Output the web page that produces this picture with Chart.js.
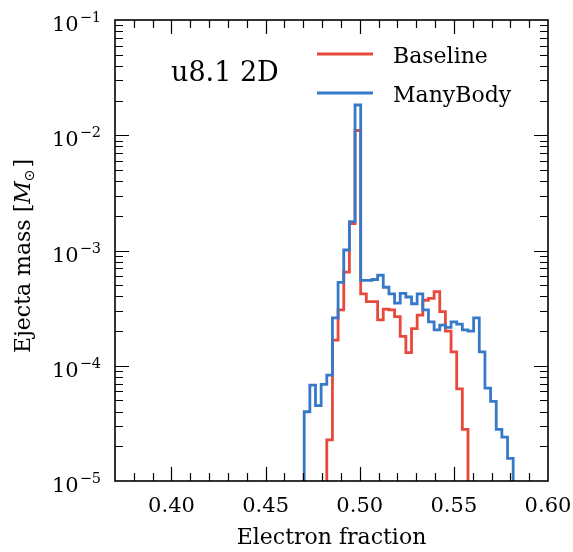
<!DOCTYPE html>
<html>
<head>
<meta charset="utf-8">
<script src="https://cdn.jsdelivr.net/npm/chart.js@4.4.1/dist/chart.umd.min.js"></script>
<style>
  html, body { margin: 0; padding: 0; background: #fff; }
  #wrap { width: 573px; height: 552px; }
</style>
</head>
<body>
<div id="wrap"><canvas id="yeChart" width="573" height="552"></canvas></div>
<script>
// bin edges in electron fraction (bin width 0.003)
const binEdges = [
  0.4705, 0.4735, 0.4765, 0.4795, 0.4825, 0.4855, 0.4885, 0.4915, 0.4945, 0.4975,
  0.5005, 0.5035, 0.5065, 0.5095, 0.5125, 0.5155, 0.5185, 0.5215, 0.5245, 0.5275,
  0.5305, 0.5335, 0.5365, 0.5395, 0.5425, 0.5455, 0.5485, 0.5515, 0.5545, 0.5575,
  0.5605, 0.5635, 0.5665, 0.5695, 0.5725, 0.5755, 0.5785, 0.5815
];

// ejecta mass per bin [Msun], null = empty bin
const baselineMass = [
  null, null, null, null, 2.27e-5, 1.67e-4, 3.05e-4, 6.5e-4, 1.71e-3, 1.1e-2,
  4.2e-4, 3.6e-4, 3.6e-4, 2.5e-4, 3.1e-4, 3.05e-4, 2.67e-4, 1.8e-4, 1.3e-4, 2.1e-4,
  2.75e-4, 3.7e-4, 3.85e-4, 4.4e-4, 2.95e-4, 2.0e-4, 1.32e-4, 6.3e-5, 2.8e-5,
  null, null, null, null, null, null, null, null
];
const manyBodyMass = [
  3.99e-5, 6.8e-5, 4.5e-5, 6.9e-5, 8.3e-5, 2.6e-4, 5.3e-4, 1.01e-3, 1.78e-3, 1.83e-2,
  5.5e-4, 5.5e-4, 5.6e-4, 6.1e-4, 4.8e-4, 4.2e-4, 3.5e-4, 4.25e-4, 3.95e-4, 3.45e-4,
  4.2e-4, 3.05e-4, 2.4e-4, 2.05e-4, 2.25e-4, 2.15e-4, 2.4e-4, 2.3e-4, 2.05e-4, 2.0e-4,
  2.6e-4, 1.32e-4, 6.4e-5, 4.9e-5, 2.8e-5, 2.4e-5, 1.57e-5
];

const xMajorTicks = [0.40, 0.45, 0.50, 0.55, 0.60];
const xTickLabels = ["0.40", "0.45", "0.50", "0.55", "0.60"];
const yMajorTicks = [1e-5, 1e-4, 1e-3, 1e-2, 1e-1];
const yTickExps = ["\u22125", "\u22124", "\u22123", "\u22122", "\u22121"];

const RED = "rgb(232,73,58)";
const BLUE = "rgb(55,121,201)";
const FLOOR = 1e-8; // below the axis, gets clipped
const SERIF = "'DejaVu Serif', serif";

// histogram outline as (x,y) corner points
function stepPoints(edges, vals) {
  const pts = [];
  let open = false;
  for (let i = 0; i < vals.length; i++) {
    const v = vals[i];
    if (v == null) {
      if (open) { pts.push({ x: edges[i], y: FLOOR }); open = false; }
      continue;
    }
    if (!open) { pts.push({ x: edges[i], y: FLOOR }); open = true; }
    pts.push({ x: edges[i], y: v });
    pts.push({ x: edges[i + 1], y: v });
  }
  if (open) pts.push({ x: edges[vals.length], y: FLOOR });
  return pts;
}

// frame, inward ticks, labels, legend and text
const decorPlugin = {
  id: "decor",
  afterDraw(chart) {
    const c = chart.ctx;
    const a = chart.chartArea;
    const xs = chart.scales.x, ys = chart.scales.y;
    c.save();
    c.strokeStyle = "#000";
    c.fillStyle = "#000";

    // ticks
    c.lineWidth = 1.2;
    const majLen = 14, minLen = 8;
    function xTick(v, len) {
      const px = Math.round(xs.getPixelForValue(v)) + 0.5;
      c.beginPath();
      c.moveTo(px, a.bottom); c.lineTo(px, a.bottom - len);
      c.moveTo(px, a.top); c.lineTo(px, a.top + len);
      c.stroke();
    }
    function yTick(v, len) {
      const py = Math.round(ys.getPixelForValue(v)) + 0.5;
      c.beginPath();
      c.moveTo(a.left, py); c.lineTo(a.left + len, py);
      c.moveTo(a.right, py); c.lineTo(a.right - len, py);
      c.stroke();
    }
    for (let k = 38; k < 60; k++) {
      if (k % 5 !== 0) xTick(k / 100, minLen);
    }
    xMajorTicks.forEach(v => { if (v < 0.599) xTick(v, majLen); });
    for (let e = -5; e < -1; e++) {
      for (let m = 2; m <= 9; m++) yTick(m * Math.pow(10, e), minLen);
    }
    yMajorTicks.forEach(v => { if (v > 1.1e-5 && v < 0.09) yTick(v, majLen); });

    // frame
    c.lineWidth = 1.6;
    c.strokeRect(a.left, a.top, a.right - a.left, a.bottom - a.top);

    // x tick labels
    c.font = "21px " + SERIF;
    c.textAlign = "center";
    c.textBaseline = "alphabetic";
    xMajorTicks.forEach((v, i) => {
      c.fillText(xTickLabels[i], xs.getPixelForValue(v), 512);
    });

    // y tick labels 10^n
    yMajorTicks.forEach((v, i) => {
      const py = ys.getPixelForValue(v);
      const right = 101;
      c.font = "14.5px " + SERIF;
      c.textAlign = "right";
      c.fillText(yTickExps[i], right, py + 2);
      const ew = c.measureText(yTickExps[i]).width;
      c.font = "21px " + SERIF;
      c.fillText("10", right - ew - 1, py + 11);
    });

    // x title
    c.font = "22px " + SERIF;
    c.textAlign = "center";
    c.fillText("Electron fraction", (a.left + a.right) / 2, 544);

    // y title, rotated, with italic M and subscript sun
    c.save();
    c.translate(29.5, 256);
    c.rotate(-Math.PI / 2);
    const parts = [
      { t: "Ejecta mass [", f: "22px " + SERIF, dy: 0 },
      { t: "M", f: "italic 22px " + SERIF, dy: 0 },
      { t: "\u2299", f: "14px 'DejaVu Sans', sans-serif", dy: 4 },
      { t: "]", f: "22px " + SERIF, dy: 0 }
    ];
    let total = 0;
    parts.forEach(p => { c.font = p.f; p.w = c.measureText(p.t).width; total += p.w + (p.t === "]" ? 2 : 0); });
    let x0 = -total / 2;
    c.textAlign = "left";
    parts.forEach(p => {
      c.font = p.f;
      if (p.t === "]") x0 += 2;
      c.fillText(p.t, x0, p.dy);
      x0 += p.w;
    });
    c.restore();

    // model label
    c.font = "27px " + SERIF;
    c.textAlign = "left";
    c.fillText("u8.1 2D", 171, 81);

    // legend
    const legendRows = [
      { ds: chart.data.datasets[0], y: 54 },
      { ds: chart.data.datasets[1], y: 93 }
    ];
    c.lineWidth = 3;
    legendRows.forEach(r => {
      c.strokeStyle = r.ds.borderColor;
      c.beginPath();
      c.moveTo(317, r.y); c.lineTo(373, r.y);
      c.stroke();
      c.font = "22px " + SERIF;
      c.fillStyle = "#000";
      c.fillText(r.ds.label, 393, r.y + 8.5);
    });

    c.restore();
  }
};

new Chart(document.getElementById("yeChart"), {
  type: "line",
  data: {
    datasets: [
      {
        label: "Baseline",
        data: stepPoints(binEdges, baselineMass),
        borderColor: RED,
        borderWidth: 2.8,
        pointRadius: 0,
        tension: 0,
        fill: false,
        borderJoinStyle: "miter",
        order: 1
      },
      {
        label: "ManyBody",
        data: stepPoints(binEdges, manyBodyMass),
        borderColor: BLUE,
        borderWidth: 2.8,
        pointRadius: 0,
        tension: 0,
        fill: false,
        borderJoinStyle: "miter",
        order: 0
      }
    ]
  },
  options: {
    responsive: false,
    animation: false,
    devicePixelRatio: 1,
    layout: { padding: { left: 115, right: 25, top: 20, bottom: 71 } },
    plugins: { legend: { display: false }, tooltip: { enabled: false } },
    scales: {
      x: { type: "linear", min: 0.37, max: 0.60, display: false },
      y: { type: "logarithmic", min: 1e-5, max: 1e-1, display: false }
    }
  },
  plugins: [decorPlugin]
});
</script>
</body>
</html>
